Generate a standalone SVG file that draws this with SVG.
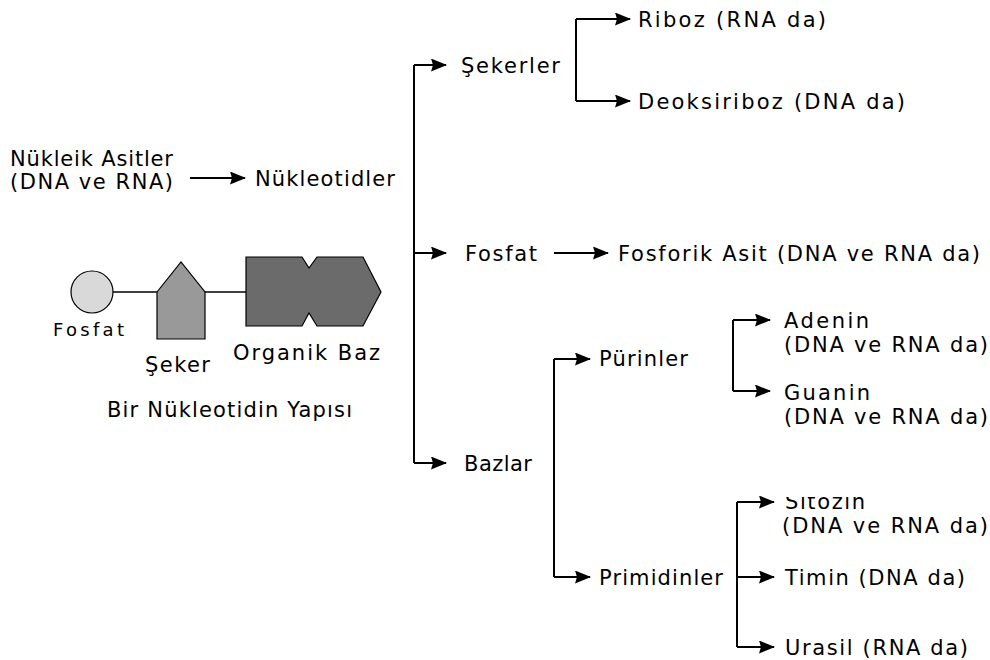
<svg xmlns="http://www.w3.org/2000/svg" width="990" height="660" viewBox="0 0 990 660">
<defs>
<style>
text{font-family:"DejaVu Sans","Liberation Sans",Arial,sans-serif;font-size:21px;fill:#000}
.sm{font-size:18px}
.c{fill:none;stroke:#000;stroke-width:2}
.a{marker-end:url(#ah)}
</style>
<marker id="ah" markerUnits="userSpaceOnUse" markerWidth="16" markerHeight="13" refX="15" refY="6.5" orient="auto"><path d="M0,0 L16,6.5 L0,13 L2,6.5 z" fill="#000"/></marker>
<clipPath id="sitclip"><rect x="760" y="497" width="200" height="16"/></clipPath>
</defs>
<rect width="990" height="660" fill="#fff"/>
<g id="connectors">
<path class="c a" d="M190,178 H245"/>
<path class="c" d="M414,65 V463"/>
<path class="c a" d="M414,65 H446"/>
<path class="c a" d="M414,253 H446"/>
<path class="c a" d="M414,463 H446"/>
<path class="c" d="M576,19 V101"/>
<path class="c a" d="M576,19 H630"/>
<path class="c a" d="M576,101 H630"/>
<path class="c a" d="M554,253 H608"/>
<path class="c" d="M554,359 V577"/>
<path class="c a" d="M554,359 H590"/>
<path class="c a" d="M554,577 H590"/>
<path class="c" d="M733,320 V391"/>
<path class="c a" d="M733,320 H770"/>
<path class="c a" d="M733,391 H770"/>
<path class="c" d="M737,502 V647"/>
<path class="c a" d="M737,502 H774"/>
<path class="c a" d="M737,577 H774"/>
<path class="c a" d="M737,647 H774"/>
</g>
<g id="nukleik-asitler"><text x="10" y="166" textLength="163" lengthAdjust="spacing">Nükleik Asitler</text><text x="10" y="189" textLength="163" lengthAdjust="spacing">(DNA ve RNA)</text></g>
<g id="nukleotidler"><text x="255" y="186" textLength="140" lengthAdjust="spacing">Nükleotidler</text></g>
<g id="yapi">
<line x1="112" y1="292" x2="246" y2="292" stroke="#000" stroke-width="1.6"/>
<circle cx="92" cy="292" r="21" fill="#d9d9d9" stroke="#000" stroke-width="1.2"/>
<path d="M157,292 L181,262 L205,292 L205,339 L157,339 z" fill="#999" stroke="#000" stroke-width="1.2"/>
<path d="M246,257 L302,257 L309,268 L317,257 L363,257 L381,292 L363,326 L317,326 L309,313 L302,326 L246,326 z" fill="#6b6b6b" stroke="#000" stroke-width="1.2"/>
<text class="sm" x="53" y="336" textLength="71" lengthAdjust="spacing">Fosfat</text>
<text x="145" y="372" textLength="65" lengthAdjust="spacing">Şeker</text>
<text x="233" y="360" textLength="147" lengthAdjust="spacing">Organik Baz</text>
<text x="107" y="417" textLength="245" lengthAdjust="spacing">Bir Nükleotidin Yapısı</text>
</g>
<g id="sekerler"><text x="461" y="73" textLength="99" lengthAdjust="spacing">Şekerler</text></g>
<g id="riboz"><text x="638" y="27" textLength="188" lengthAdjust="spacing">Riboz  (RNA da)</text></g>
<g id="deoksiriboz"><text x="638" y="109" textLength="267" lengthAdjust="spacing">Deoksiriboz  (DNA da)</text></g>
<g id="fosfat"><text x="465" y="261" textLength="72" lengthAdjust="spacing">Fosfat</text></g>
<g id="fosforik-asit"><text x="618" y="261" textLength="362" lengthAdjust="spacing">Fosforik Asit  (DNA ve RNA da)</text></g>
<g id="bazlar"><text x="464" y="471" textLength="68" lengthAdjust="spacing">Bazlar</text></g>
<g id="purinler"><text x="599" y="366" textLength="89" lengthAdjust="spacing">Pürinler</text></g>
<g id="primidinler"><text x="599" y="585" textLength="124" lengthAdjust="spacing">Primidinler</text></g>
<g id="adenin"><text x="784" y="328" textLength="85" lengthAdjust="spacing">Adenin</text><text x="784" y="352" textLength="204" lengthAdjust="spacing">(DNA ve RNA da)</text></g>
<g id="guanin"><text x="784" y="400" textLength="86" lengthAdjust="spacing">Guanin</text><text x="784" y="424" textLength="204" lengthAdjust="spacing">(DNA ve RNA da)</text></g>
<g id="sitozin"><text x="785" y="509" textLength="80" lengthAdjust="spacing" clip-path="url(#sitclip)">Sitozin</text><text x="782" y="533" textLength="206" lengthAdjust="spacing">(DNA ve RNA da)</text></g>
<g id="timin"><text x="785" y="585" textLength="180" lengthAdjust="spacing">Timin (DNA da)</text></g>
<g id="urasil"><text x="785" y="655" textLength="183" lengthAdjust="spacing">Urasil (RNA da)</text></g>
</svg>
